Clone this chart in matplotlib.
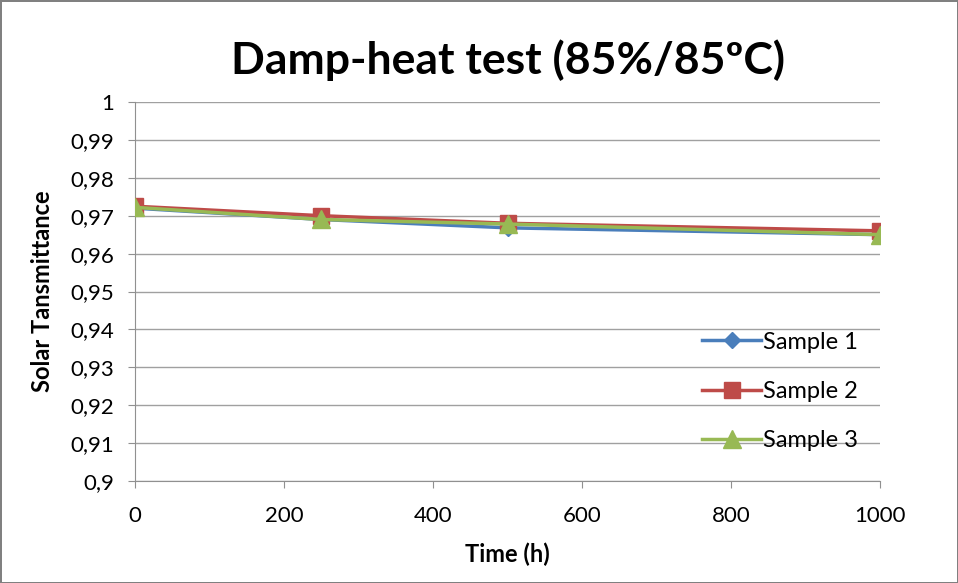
import matplotlib.pyplot as plt
from matplotlib.ticker import FuncFormatter, MultipleLocator

plt.rcParams['font.family'] = ['Lato', 'DejaVu Sans']

# data
time_h = [0, 250, 500, 1000]
sample1 = [0.972, 0.969, 0.9668, 0.965]
sample2 = [0.9725, 0.970, 0.968, 0.966]
sample3 = [0.9722, 0.969, 0.9678, 0.965]
labels = ['Sample 1', 'Sample 2', 'Sample 3']

fig = plt.figure(figsize=(9.58, 5.83), dpi=100)
fig.patch.set_edgecolor('#808080')
fig.patch.set_linewidth(2)
ax = fig.add_axes([0.141, 0.175, 0.778, 0.65])

ax.plot(time_h, sample1, color='#4A7EBB', marker='D', markersize=8, lw=2.5, label=labels[0], zorder=3)
ax.plot(time_h, sample2, color='#BE4B48', marker='s', markersize=12, lw=2.5, label=labels[1], zorder=4)
ax.plot(time_h, sample3, color='#98B954', marker='^', markersize=13, lw=2.5, label=labels[2], zorder=5)

ax.set_xlim(0, 1000)
ax.set_ylim(0.9, 1.0)
ax.xaxis.set_major_locator(MultipleLocator(200))
ax.yaxis.set_major_locator(MultipleLocator(0.01))
ax.yaxis.set_major_formatter(FuncFormatter(lambda v, p: f"{round(v, 3):g}".replace('.', ',')))
ax.grid(axis='y', color='#A0A0A0', lw=1)
ax.set_axisbelow(True)
for s in ['top', 'right']:
    ax.spines[s].set_visible(False)
for s in ['left', 'bottom']:
    ax.spines[s].set_color('#909090')
ax.tick_params(axis='both', labelsize=16, color='#909090', length=5)
ax.tick_params(axis='x', pad=13)
ax.tick_params(axis='y', pad=10)

ax.set_title('Damp-heat test (85%/85ºC)', fontsize=32, fontweight='bold', pad=20)
ax.set_xlabel('Time (h)', fontsize=17, fontweight='bold', labelpad=12)
ax.set_ylabel('Solar Tansmittance', fontsize=17, fontweight='bold', labelpad=12)

ax.legend(loc='upper left', bbox_to_anchor=(0.748, 0.419), frameon=False, fontsize=17,
          labelspacing=1.2, handlelength=2.5, handletextpad=0.1, borderaxespad=0)

fig.savefig('out.png', dpi=100)
